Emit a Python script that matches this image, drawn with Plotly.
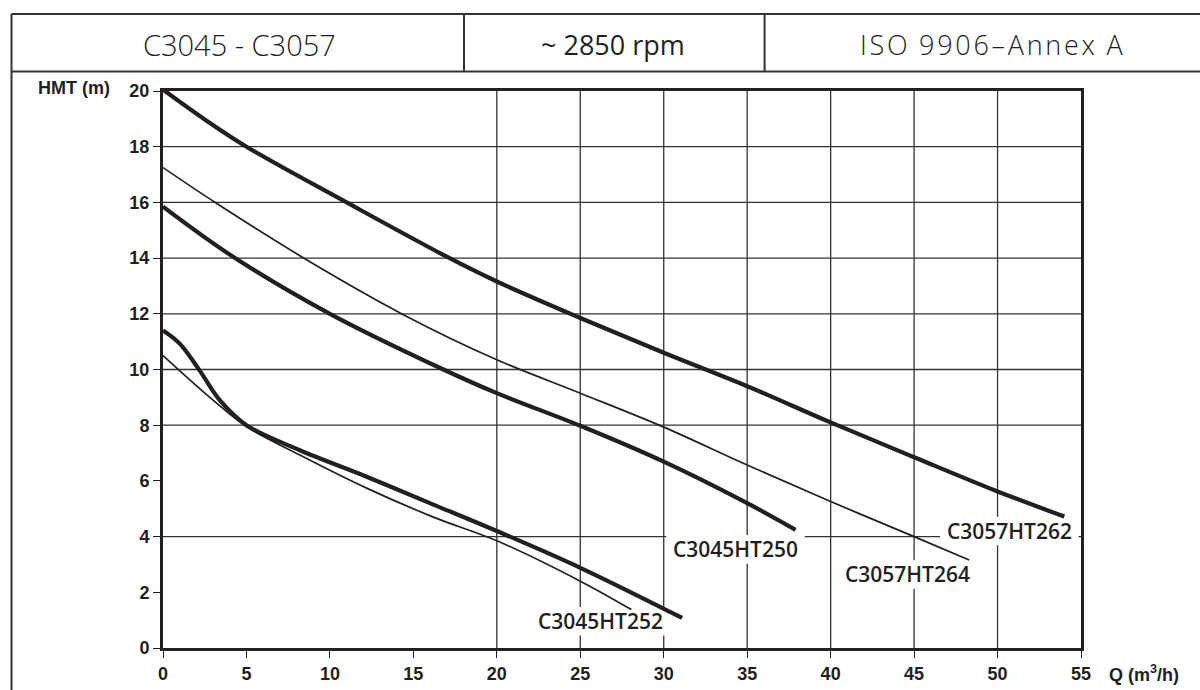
import plotly.graph_objects as go

# ---- data ----
Q_262 = [0, 2.5, 5, 11, 17, 20, 25, 30, 35, 40, 45, 50, 54]
H_262 = [20.05, 18.98, 18.0, 16.0, 14.05, 13.16, 11.85, 10.6, 9.4, 8.1, 6.85, 5.62, 4.72]

Q_264 = [0, 3.2, 8.6, 14.4, 20, 25, 30, 35, 40, 45, 48.3]
H_264 = [17.25, 15.97, 13.94, 11.97, 10.35, 9.15, 7.93, 6.57, 5.26, 4.0, 3.16]

Q_250 = [0, 4.2, 10.0, 16.8, 20, 25, 30, 35, 37.9]
H_250 = [15.85, 14.05, 12.0, 10.0, 9.15, 7.98, 6.69, 5.2, 4.24]

Q_252 = [0, 1.0, 2.2, 3.4, 5.0, 8.2, 12.2, 16.2, 20, 25, 31.1]
H_252 = [11.4, 10.93, 9.96, 8.9, 8.0, 7.1, 6.15, 5.15, 4.2, 2.88, 1.08]

Q_252b = [0, 3.0, 5.0, 8.2, 12.2, 16.2, 20, 25, 28.06]
H_252b = [10.5, 8.9, 7.95, 6.93, 5.74, 4.7, 3.85, 2.4, 1.38]

LABELS = ["C3057HT262", "C3057HT264", "C3045HT250", "C3045HT252"]
LABEL_Q = [50.7, 44.6, 34.3, 26.2]
LABEL_H = [4.2, 2.64, 3.54, 0.96]

X_TICKS = [0, 5, 10, 15, 20, 25, 30, 35, 40, 45, 50, 55]
Y_TICKS = [0, 2, 4, 6, 8, 10, 12, 14, 16, 18, 20]
GRID_X = [20, 25, 30, 35, 40, 45, 50]
GRID_Y = [4, 8, 10, 12, 14, 16, 18]

HEADER = ["C3045 - C3057", "~ 2850 rpm", "I\u200aS\u200aO\u2009 9\u200a9\u200a0\u200a6\u200a\u2013\u200aA\u200an\u200an\u200ae\u200ax\u2009 A"]

INK = "#231f20"

fig = go.Figure()

series = [
    (Q_262, H_262, 4.2, "C3057HT262"),
    (Q_264, H_264, 1.7, "C3057HT264"),
    (Q_250, H_250, 4.2, "C3045HT250"),
    (Q_252, H_252, 4.2, "C3045HT252"),
    (Q_252b, H_252b, 1.7, "C3045HT252 b"),
]
for q, h, w, name in series:
    fig.add_trace(go.Scatter(x=q, y=h, mode="lines", name=name,
                             line=dict(color=INK, width=w, shape="spline", smoothing=1.0),
                             hoverinfo="skip"))

shapes = []
for gx in GRID_X:
    shapes.append(dict(type="line", xref="x", yref="y", x0=gx, x1=gx, y0=0, y1=20,
                       line=dict(color="#333333", width=1.3), layer="below"))
for gy in GRID_Y:
    shapes.append(dict(type="line", xref="x", yref="y", x0=0, x1=55, y0=gy, y1=gy,
                       line=dict(color="#333333", width=1.3), layer="below"))

# white knock-out boxes behind the curve labels (below the curves, above the grid)
BOX_W = 8.3   # in Q units (~138 px)
BOX_H = 1.03  # in H units (~29 px)
for q, h in zip(LABEL_Q, LABEL_H):
    shapes.append(dict(type="rect", xref="x", yref="y", x0=q - BOX_W / 2, x1=q + BOX_W / 2,
                       y0=h - BOX_H / 2, y1=h + BOX_H / 2, fillcolor="white",
                       line=dict(width=0), layer="below"))

# header table (paper coords relative to plot area: x 163..1081 px, y 91..648 px)
def px(xp):
    return (xp - 163) / 918.0

def py(yp):
    return (648 - yp) / 557.0

hl = dict(color="#333333", width=2)
shapes += [
    dict(type="line", xref="paper", yref="paper", x0=px(11.5), x1=px(1200), y0=py(14), y1=py(14), line=hl),
    dict(type="line", xref="paper", yref="paper", x0=px(11.5), x1=px(1200), y0=py(71.5), y1=py(71.5), line=hl),
    dict(type="line", xref="paper", yref="paper", x0=px(11.5), x1=px(11.5), y0=py(14), y1=py(692), line=hl),
    dict(type="line", xref="paper", yref="paper", x0=px(464), x1=px(464), y0=py(14), y1=py(71.5), line=hl),
    dict(type="line", xref="paper", yref="paper", x0=px(764.6), x1=px(764.6), y0=py(14), y1=py(71.5), line=hl),
]

annotations = []
for txt, q, h in zip(LABELS, LABEL_Q, LABEL_H):
    annotations.append(dict(x=q, y=h, xref="x", yref="y", text=txt, showarrow=False,
                            font=dict(family="Open Sans", size=21, color=INK, weight=600),
                            xanchor="center", yanchor="middle"))

header_x = [239, 613, 991]
header_sizes = [29, 27, 27]
header_weights = [300, 400, 300]
for txt, hx, s, wt in zip(HEADER, header_x, header_sizes, header_weights):
    annotations.append(dict(x=px(hx), y=py(44), xref="paper", yref="paper", text=txt,
                            showarrow=False, xanchor="center", yanchor="middle",
                            font=dict(family="Open Sans", size=s, color=INK, weight=wt)))

annotations.append(dict(x=px(74), y=py(88), xref="paper", yref="paper", text="HMT (m)",
                        showarrow=False, xanchor="center", yanchor="middle",
                        font=dict(family="Liberation Sans", size=18, color=INK, weight="bold")))
annotations.append(dict(x=px(1144), y=py(673), xref="paper", yref="paper", text="Q (m<sup>3</sup>/h)",
                        showarrow=False, xanchor="center", yanchor="middle",
                        font=dict(family="Liberation Sans", size=18, color=INK, weight="bold")))

axis_common = dict(showgrid=False, zeroline=False, showline=True, linecolor=INK, linewidth=3,
                   mirror=True, ticks="outside", ticklen=7, tickwidth=1.3, tickcolor=INK,
                   tickfont=dict(family="Liberation Sans", size=18, color=INK, weight="bold"))

fig.update_layout(
    width=1200, height=690,
    margin=dict(l=163, r=119, t=91, b=42, autoexpand=False),
    paper_bgcolor="white", plot_bgcolor="white",
    showlegend=False,
    xaxis=dict(range=[0, 55], tickvals=X_TICKS, ticktext=[str(v) for v in X_TICKS], **axis_common),
    yaxis=dict(range=[0, 20], tickvals=Y_TICKS, ticktext=[str(v) for v in Y_TICKS], **axis_common),
    shapes=shapes,
    annotations=annotations,
)

fig.write_html("out.html", config={"displayModeBar": False},
               post_script="document.body.style.margin='0';document.body.style.padding='0';")
